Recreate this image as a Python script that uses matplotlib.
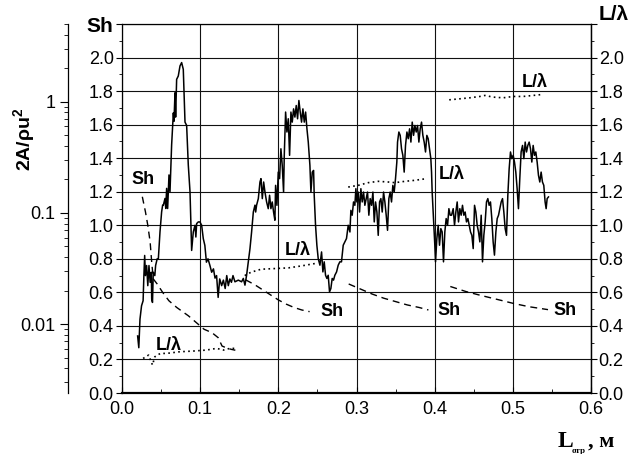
import numpy as np
import matplotlib
matplotlib.use("Agg")
from matplotlib import pyplot as plt
from matplotlib.ticker import MultipleLocator, LogLocator, NullFormatter

plt.rcParams['font.family'] = ['Liberation Sans', 'DejaVu Sans']
plt.rcParams['mathtext.fontset'] = 'custom'
plt.rcParams['mathtext.bf'] = 'Liberation Sans:bold'

# solid curve 2A/rho u^2, values read on the Sh / L/lambda grid scale
amp_x = [0.0200, 0.0215, 0.0230, 0.0250, 0.0270, 0.0280, 0.0290, 0.0300, 0.0315, 0.0330,
         0.0345, 0.0360, 0.0375, 0.0380, 0.0390, 0.0400, 0.0420, 0.0430, 0.0450, 0.0465,
         0.0486, 0.0507, 0.0520, 0.0529, 0.0550, 0.0560, 0.0571, 0.0584, 0.0601, 0.0614,
         0.0635, 0.0657, 0.0665, 0.0678, 0.0686, 0.0699, 0.0720, 0.0742, 0.0763, 0.0784,
         0.0806, 0.0827, 0.0848, 0.0870, 0.0891, 0.0912, 0.0934, 0.0945, 0.0955, 0.0976,
         0.0997, 0.1019, 0.1040, 0.1060, 0.1080, 0.1100, 0.1125, 0.1147, 0.1170, 0.1190,
         0.1210, 0.1230, 0.1250, 0.1275, 0.1297, 0.1320, 0.1340, 0.1360, 0.1380, 0.1400,
         0.1420, 0.1445, 0.1488, 0.1530, 0.1552, 0.1573, 0.1594, 0.1616, 0.1637, 0.1658,
         0.1680, 0.1701, 0.1710, 0.1722, 0.1744, 0.1765, 0.1778, 0.1795, 0.1812, 0.1829,
         0.1850, 0.1871, 0.1888, 0.1905, 0.1922, 0.1939, 0.1956, 0.1965, 0.1982, 0.1999,
         0.2016, 0.2033, 0.2050, 0.2067, 0.2076, 0.2093, 0.2110, 0.2127, 0.2144, 0.2161,
         0.2178, 0.2195, 0.2212, 0.2229, 0.2246, 0.2263, 0.2280, 0.2297, 0.2314, 0.2332,
         0.2349, 0.2366, 0.2383, 0.2404, 0.2417, 0.2434, 0.2451, 0.2459, 0.2476, 0.2493,
         0.2510, 0.2532, 0.2553, 0.2570, 0.2587, 0.2604, 0.2621, 0.2638, 0.2655, 0.2672,
         0.2689, 0.2706, 0.2723, 0.2745, 0.2766, 0.2787, 0.2808, 0.2830, 0.2851, 0.2872,
         0.2894, 0.2916, 0.2928, 0.2945, 0.2962, 0.2979, 0.2992, 0.3005, 0.3022, 0.3039,
         0.3056, 0.3073, 0.3090, 0.3107, 0.3124, 0.3141, 0.3158, 0.3175, 0.3193, 0.3210,
         0.3227, 0.3244, 0.3261, 0.3278, 0.3295, 0.3312, 0.3329, 0.3346, 0.3363, 0.3380,
         0.3397, 0.3414, 0.3431, 0.3448, 0.3465, 0.3482, 0.3499, 0.3516, 0.3525, 0.3542,
         0.3559, 0.3576, 0.3593, 0.3610, 0.3627, 0.3645, 0.3662, 0.3679, 0.3696, 0.3713,
         0.3730, 0.3747, 0.3764, 0.3781, 0.3798, 0.3815, 0.3832, 0.3849, 0.3866, 0.3883,
         0.3900, 0.3917, 0.3934, 0.3951, 0.3960, 0.3968, 0.3985, 0.4002, 0.4011, 0.4028,
         0.4045, 0.4062, 0.4079, 0.4096, 0.4113, 0.4130, 0.4147, 0.4165, 0.4182, 0.4199,
         0.4216, 0.4237, 0.4254, 0.4271, 0.4288, 0.4305, 0.4322, 0.4339, 0.4356, 0.4373,
         0.4390, 0.4407, 0.4425, 0.4442, 0.4459, 0.4476, 0.4493, 0.4510, 0.4527, 0.4544,
         0.4561, 0.4578, 0.4595, 0.4612, 0.4629, 0.4646, 0.4663, 0.4680, 0.4697, 0.4714,
         0.4731, 0.4748, 0.4765, 0.4783, 0.4800, 0.4817, 0.4834, 0.4851, 0.4868, 0.4885,
         0.4902, 0.4919, 0.4936, 0.4953, 0.4970, 0.4987, 0.5004, 0.5021, 0.5038, 0.5055,
         0.5072, 0.5089, 0.5106, 0.5124, 0.5141, 0.5158, 0.5175, 0.5192, 0.5209, 0.5226,
         0.5243, 0.5260, 0.5277, 0.5294, 0.5311, 0.5328, 0.5345, 0.5362, 0.5379, 0.5396,
         0.5413, 0.5426, 0.5439, 0.5456]
amp_y = [0.34, 0.27, 0.44, 0.52, 0.55, 0.70, 0.82, 0.70, 0.76, 0.64,
         0.76, 0.66, 0.72, 0.56, 0.54, 0.72, 0.70, 0.76, 0.80, 0.80,
         0.96, 1.08, 1.12, 1.12, 1.16, 1.10, 1.22, 1.10, 1.30, 1.20,
         1.48, 1.67, 1.62, 1.79, 1.645, 1.87, 1.89, 1.95, 1.97, 1.93,
         1.615, 1.595, 1.36, 1.20, 0.85, 0.96, 1.00, 0.93, 1.01, 1.02,
         1.02, 1.00, 0.92, 0.88, 0.78, 0.80, 0.76, 0.72, 0.74, 0.685,
         0.70, 0.57, 0.68, 0.64, 0.673, 0.623, 0.70, 0.64, 0.68, 0.66,
         0.70, 0.663, 0.673, 0.663, 0.683, 0.643, 0.702, 0.782, 0.86, 0.96,
         1.079, 1.12, 1.079, 1.12, 1.159, 1.258, 1.278, 1.159, 1.258, 1.198,
         1.139, 1.099, 1.179, 1.099, 1.139, 1.079, 1.03, 1.238, 1.119, 1.317,
         1.278, 1.456, 1.357, 1.198, 1.417, 1.675, 1.556, 1.635, 1.417, 1.675,
         1.615, 1.694, 1.645, 1.714, 1.635, 1.744, 1.675, 1.615, 1.694, 1.615,
         1.675, 1.575, 1.496, 1.357, 1.198, 1.317, 1.327, 1.179, 1.00, 0.881,
         0.802, 0.762, 0.841, 0.722, 0.782, 0.702, 0.683, 0.702, 0.603, 0.623,
         0.683, 0.673, 0.702, 0.722, 0.762, 0.782, 0.782, 0.881, 0.901, 0.921,
         1.00, 0.96, 1.089, 1.06, 1.139, 1.119, 1.218, 1.139, 1.198, 1.079,
         1.218, 1.139, 1.198, 1.119, 1.159, 1.198, 1.06, 1.159, 1.119, 1.198,
         1.02, 1.139, 1.079, 0.94, 1.139, 1.159, 1.079, 1.198, 1.139, 1.06,
         0.97, 1.159, 1.198, 1.139, 1.238, 1.198, 1.278, 1.377, 1.496, 1.556,
         1.536, 1.456, 1.417, 1.317, 1.476, 1.556, 1.516, 1.575, 1.496, 1.615,
         1.536, 1.595, 1.556, 1.595, 1.496, 1.575, 1.615, 1.536, 1.496, 1.437,
         1.536, 1.516, 1.456, 1.397, 1.317, 1.198, 1.04, 0.881, 0.782, 0.921,
         1.00, 0.881, 0.98, 0.96, 0.782, 0.96, 1.04, 1.00, 1.099, 1.06,
         1.06, 1.099, 1.00, 1.079, 1.139, 1.02, 1.099, 1.06, 1.119, 1.06,
         1.079, 1.02, 1.04, 1.00, 0.96, 0.94, 0.861, 1.119, 1.079, 1.00,
         0.96, 0.901, 1.06, 0.782, 0.94, 1.02, 1.139, 1.159, 1.119, 1.139,
         1.04, 0.901, 0.822, 0.96, 1.04, 1.06, 1.099, 1.139, 1.159, 1.079,
         0.98, 0.94, 1.179, 1.337, 1.437, 1.397, 1.417, 1.377, 1.317, 1.218,
         1.099, 1.278, 1.437, 1.476, 1.397, 1.496, 1.437, 1.476, 1.496, 1.456,
         1.377, 1.476, 1.417, 1.437, 1.377, 1.298, 1.258, 1.317, 1.258, 1.238,
         1.139, 1.099, 1.159, 1.169]

# Sh (dashed), four pieces
sh1_x = [0.026, 0.030, 0.033, 0.036, 0.038, 0.040, 0.045, 0.052, 0.060, 0.070,
         0.085, 0.095, 0.105, 0.115, 0.123, 0.128, 0.133, 0.140, 0.145]
sh1_y = [1.17, 1.08, 1.00, 0.90, 0.78, 0.68, 0.65, 0.60, 0.55, 0.51,
         0.46, 0.42, 0.38, 0.36, 0.33, 0.28, 0.27, 0.26, 0.255]
sh2_x = [0.158, 0.170, 0.180, 0.190, 0.200, 0.210, 0.220, 0.230, 0.240]
sh2_y = [0.675, 0.645, 0.615, 0.585, 0.555, 0.530, 0.510, 0.495, 0.485]
sh3_x = [0.290, 0.305, 0.320, 0.335, 0.350, 0.365, 0.380, 0.392]
sh3_y = [0.650, 0.620, 0.590, 0.565, 0.545, 0.525, 0.510, 0.495]
sh4_x = [0.420, 0.440, 0.458, 0.480, 0.500, 0.520, 0.545]
sh4_y = [0.635, 0.605, 0.583, 0.558, 0.535, 0.515, 0.497]

# L/lambda (dotted), four pieces
ll1_x = [0.027, 0.034, 0.039, 0.042, 0.049, 0.057, 0.074, 0.091, 0.108, 0.121, 0.130, 0.138, 0.147]
ll1_y = [0.206, 0.226, 0.167, 0.216, 0.236, 0.236, 0.246, 0.250, 0.256, 0.266, 0.256, 0.266, 0.266]
ll2_x = [0.157, 0.165, 0.178, 0.196, 0.213, 0.230, 0.247]
ll2_y = [0.700, 0.720, 0.738, 0.742, 0.746, 0.758, 0.772]
ll3_x = [0.2894, 0.3022, 0.3150, 0.3278, 0.3405, 0.3491, 0.3619, 0.3746, 0.3896]
ll3_y = [1.228, 1.238, 1.254, 1.262, 1.258, 1.254, 1.262, 1.268, 1.278]
ll4_x = [0.4186, 0.4322, 0.4450, 0.4578, 0.4642, 0.4749, 0.4876, 0.5004, 0.5132, 0.5260, 0.5380]
ll4_y = [1.748, 1.754, 1.760, 1.768, 1.774, 1.764, 1.760, 1.768, 1.768, 1.774, 1.780]

# curve labels inside the plot
sh_label_pos = [(0.027, 1.27), (0.2685, 0.488), (0.4188, 0.494), (0.567, 0.49)]
ll_label_pos = [(0.060, 0.283), (0.2244, 0.85), (0.4216, 1.303), (0.5275, 1.851)]

lin_ticks = [0.0, 0.2, 0.4, 0.6, 0.8, 1.0, 1.2, 1.4, 1.6, 1.8, 2.0, 2.2]
x_ticks = [0.0, 0.1, 0.2, 0.3, 0.4, 0.5, 0.6]
log_ticks = [0.01, 0.1, 1]
log_labels = ['0.01', '0.1', '1']

fig = plt.figure(figsize=(6.3, 4.54), dpi=100)
ax = fig.add_axes([122 / 630, 61 / 454, 469 / 630, 369 / 454])

ax.plot(amp_x, amp_y, '-', color='black', lw=1.1, zorder=3)
dash = (0, (5, 3.5))
dots = (0, (1, 2))
for sx, sy in [(sh1_x, sh1_y), (sh2_x, sh2_y), (sh3_x, sh3_y), (sh4_x, sh4_y)]:
    ax.plot(sx, sy, color='black', lw=1.0, linestyle=dash, zorder=3)
for lx, ly in [(ll1_x, ll1_y), (ll2_x, ll2_y), (ll3_x, ll3_y), (ll4_x, ll4_y)]:
    ax.plot(lx, ly, color='black', lw=1.2, linestyle=dots, zorder=3)
for x, y in sh_label_pos:
    ax.text(x, y, 'Sh', fontsize=13, fontweight='bold', ha='center', va='center', zorder=4)
for x, y in ll_label_pos:
    ax.text(x, y, 'L/λ', fontsize=13, fontweight='bold', ha='center', va='center', zorder=4)

ax.set_xlim(0, 0.6)
ax.set_ylim(0, 2.2)
ax.set_xticks(x_ticks, [f'{v:.1f}' for v in x_ticks])
ax.xaxis.set_minor_locator(MultipleLocator(0.05))
ax.set_yticks(lin_ticks, [f'{v:.1f}' for v in lin_ticks[:-1]] + ['Sh'])
ax.yaxis.set_minor_locator(MultipleLocator(0.1))
ax.tick_params(axis='x', which='major', direction='in', length=4, labelsize=13, pad=6)
ax.tick_params(axis='x', which='minor', direction='in', length=3)
ax.tick_params(axis='y', which='major', direction='out', length=4, labelsize=13, pad=2)
ax.tick_params(axis='y', which='minor', direction='out', length=2.5)
lab = ax.get_yticklabels()[-1]
lab.set_fontsize(15)
lab.set_fontweight('bold')
ax.grid(True, which='major', color='#111111', lw=0.8)
for s in ['left', 'right', 'top']:
    ax.spines[s].set_linewidth(0.9)
ax.spines['bottom'].set_linewidth(1.6)

ax2 = ax.twinx()
ax2.set_ylim(0, 2.2)
ax2.set_yticks(lin_ticks, [f'{v:.1f}' for v in lin_ticks[:-1]] + ['L/λ'])
ax2.yaxis.set_minor_locator(MultipleLocator(0.1))
ax2.tick_params(axis='y', which='major', direction='out', length=4, labelsize=13, pad=1.5)
ax2.tick_params(axis='y', which='minor', direction='out', length=2.5)
lab = ax2.get_yticklabels()[-1]
lab.set_fontsize(15)
lab.set_fontweight('bold')
lab.set_va('bottom')
for s in ['left', 'top', 'bottom']:
    ax2.spines[s].set_visible(False)
ax2.spines['right'].set_linewidth(0.9)

ax3 = ax.twinx()
ax3.set_yscale('log')
ax3.set_ylim(0.0024, 5.0)
ax3.yaxis.tick_left()
ax3.spines['left'].set_position(('axes', -(122 - 68) / 469))
ax3.spines['left'].set_linewidth(0.9)
for s in ['right', 'top', 'bottom']:
    ax3.spines[s].set_visible(False)
ax3.set_yticks(log_ticks, log_labels)
ax3.yaxis.set_minor_locator(LogLocator(base=10, subs=range(2, 10)))
ax3.yaxis.set_minor_formatter(NullFormatter())
ax3.tick_params(axis='y', which='major', direction='out', length=6, labelsize=13, pad=3)
ax3.tick_params(axis='y', which='minor', direction='out', length=3)

fig.text(25 / 630, 1 - 139 / 454, r'2A/ρu$^{\mathbf{2}}$', rotation=90, fontsize=14,
         fontweight='bold', ha='center', va='center')

serif = ['Liberation Serif', 'DejaVu Serif']
fig.text(558 / 630, 7 / 454, 'L', family=serif, fontsize=17, fontweight='bold', ha='left', va='baseline')
fig.text(572 / 630, 1 / 454, 'отр', family=serif, fontsize=6.5, fontweight='bold', ha='left', va='baseline')
fig.text(588 / 630, 7 / 454, ', м', family=serif, fontsize=16, fontweight='bold', ha='left', va='baseline')

fig.savefig('out.png', dpi=100)
